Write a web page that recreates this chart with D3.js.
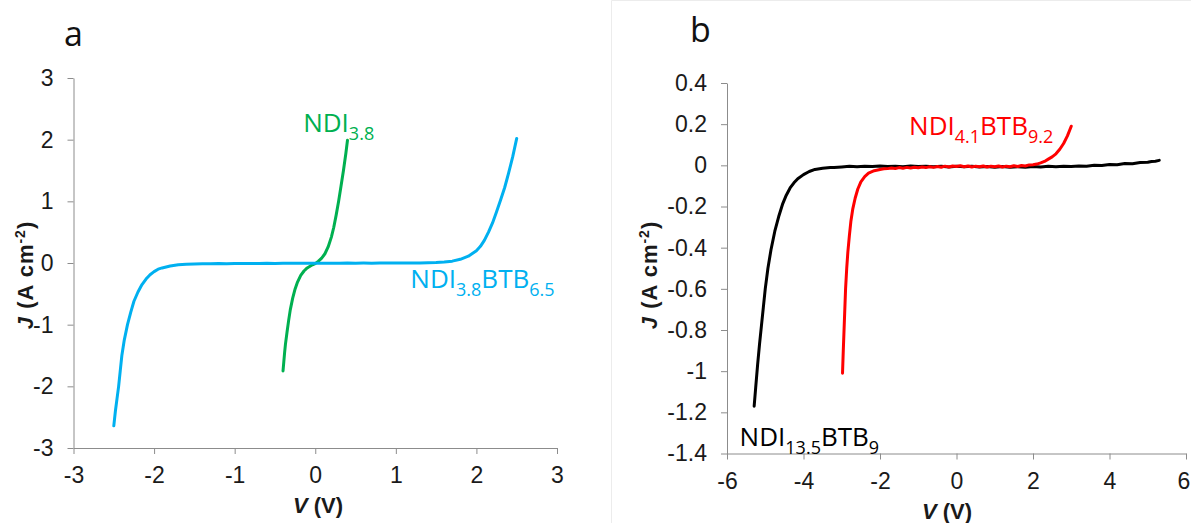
<!DOCTYPE html>
<html>
<head>
<meta charset="utf-8">
<script src="https://cdn.jsdelivr.net/npm/d3@7"></script>
<style>
  html, body { margin: 0; padding: 0; background: #fff; }
  svg { display: block; }
  .tick text { font-family: "Liberation Sans", Arial, sans-serif; font-size: 23px; fill: #1a1a1a; }
  .series-label { font-family: "Open Sans", sans-serif; font-size: 26px; }
  .axis-title { font-family: "Liberation Sans", Arial, sans-serif; font-size: 22px; font-weight: bold; fill: #1a1a1a; }
  .y-title { letter-spacing: 1px; }
  .panel-letter { font-family: "Open Sans", sans-serif; font-size: 34px; fill: #111; }
</style>
</head>
<body>
<script>
// ---- Panel a: J–V curves, voltage (V) vs current density (A cm^-2) ----
const aVTicks = [-3, -2, -1, 0, 1, 2, 3];
const aJTicks = [-3, -2, -1, 0, 1, 2, 3];

// NDI3.8 (green)
const ndi38 = [
  [-0.40, -1.75], [-0.39, -1.60], [-0.38, -1.45], [-0.37, -1.32], [-0.35, -1.12],
  [-0.33, -0.93], [-0.31, -0.76], [-0.28, -0.57], [-0.25, -0.42], [-0.22, -0.31],
  [-0.18, -0.20], [-0.14, -0.13], [-0.10, -0.08], [-0.05, -0.04], [0.00, -0.01],
  [0.04, 0.03], [0.08, 0.08], [0.12, 0.15], [0.16, 0.26], [0.20, 0.42],
  [0.23, 0.58], [0.26, 0.78], [0.29, 1.00], [0.32, 1.25], [0.35, 1.50],
  [0.38, 1.78], [0.40, 1.99]
];

// NDI3.8BTB6.5 (blue)
const ndi38btb65 = [
  [-2.50, -2.64], [-2.48, -2.40], [-2.46, -2.20], [-2.44, -2.00], [-2.42, -1.75],
  [-2.40, -1.50], [-2.37, -1.25], [-2.33, -1.00], [-2.29, -0.80], [-2.25, -0.62],
  [-2.20, -0.47], [-2.15, -0.35], [-2.10, -0.26], [-2.05, -0.19], [-2.00, -0.14],
  [-1.95, -0.10], [-1.90, -0.08], [-1.80, -0.05], [-1.70, -0.03], [-1.60, -0.02],
  [-1.50, -0.018], [-1.40, -0.014], [-1.30, -0.012], [-1.20, -0.010], [-1.10, -0.011],
  [-1.00, -0.008], [-0.90, -0.009], [-0.80, -0.007], [-0.70, -0.008], [-0.60, -0.006],
  [-0.50, -0.007], [-0.40, -0.005], [-0.30, -0.006], [-0.20, -0.004], [-0.10, -0.005],
  [0.00, -0.003], [0.10, -0.004], [0.20, -0.003], [0.30, -0.004], [0.40, -0.002],
  [0.50, -0.003], [0.60, -0.002], [0.70, -0.003], [0.80, -0.002], [0.90, -0.001],
  [1.00, -0.002], [1.10, 0.000], [1.20, -0.001], [1.30, 0.002], [1.40, 0.004],
  [1.50, 0.007], [1.60, 0.015], [1.70, 0.030], [1.80, 0.060], [1.90, 0.110],
  [2.00, 0.200], [2.05, 0.270], [2.10, 0.370], [2.15, 0.500], [2.20, 0.650],
  [2.25, 0.830], [2.30, 1.020], [2.35, 1.220], [2.40, 1.460], [2.45, 1.720],
  [2.50, 2.020]
];

// ---- Panel b ----
const bVTicks = [-6, -4, -2, 0, 2, 4, 6];
const bJTicks = [-1.4, -1.2, -1.0, -0.8, -0.6, -0.4, -0.2, 0, 0.2, 0.4];

// NDI13.5BTB9 (black)
const ndi135btb9 = [
  [-5.29, -1.17], [-5.25, -1.08], [-5.20, -0.97], [-5.15, -0.87], [-5.10, -0.78],
  [-5.05, -0.69], [-5.00, -0.60], [-4.93, -0.50], [-4.85, -0.41], [-4.75, -0.32],
  [-4.65, -0.25], [-4.55, -0.19], [-4.45, -0.145], [-4.35, -0.11], [-4.25, -0.085],
  [-4.15, -0.065], [-4.00, -0.045], [-3.85, -0.030], [-3.70, -0.020], [-3.50, -0.014],
  [-3.30, -0.010], [-3.20, -0.011], [-3.00, -0.008], [-2.80, -0.005], [-2.60, -0.007],
  [-2.40, -0.004], [-2.20, -0.006], [-2.00, -0.003], [-1.80, -0.006], [-1.60, -0.004],
  [-1.40, -0.007], [-1.20, -0.003], [-1.00, -0.006], [-0.80, -0.004], [-0.60, -0.007],
  [-0.40, -0.005], [-0.20, -0.008], [0.00, -0.004], [0.20, -0.007], [0.40, -0.005],
  [0.60, -0.008], [0.80, -0.006], [1.00, -0.009], [1.20, -0.006], [1.40, -0.009],
  [1.60, -0.007], [1.80, -0.009], [2.00, -0.006], [2.20, -0.008], [2.40, -0.005],
  [2.60, -0.007], [2.80, -0.004], [3.00, -0.006], [3.20, -0.003], [3.40, -0.004],
  [3.60, 0.000], [3.80, -0.001], [4.00, 0.004], [4.20, 0.003], [4.40, 0.009],
  [4.60, 0.008], [4.80, 0.014], [5.00, 0.015], [5.10, 0.019], [5.20, 0.020],
  [5.30, 0.024]
];

// NDI4.1BTB9.2 (red)
const ndi41btb92 = [
  [-2.98, -1.01], [-2.96, -0.90], [-2.94, -0.80], [-2.92, -0.70], [-2.90, -0.60],
  [-2.87, -0.50], [-2.84, -0.42], [-2.80, -0.34], [-2.76, -0.27], [-2.71, -0.21],
  [-2.65, -0.16], [-2.58, -0.115], [-2.50, -0.080], [-2.40, -0.055], [-2.30, -0.038],
  [-2.15, -0.026], [-2.00, -0.020], [-1.90, -0.017], [-1.80, -0.016], [-1.70, -0.013],
  [-1.60, -0.015], [-1.50, -0.011], [-1.40, -0.014], [-1.30, -0.010], [-1.20, -0.013],
  [-1.10, -0.009], [-1.00, -0.012], [-0.90, -0.008], [-0.80, -0.011], [-0.70, -0.007],
  [-0.60, -0.010], [-0.50, -0.006], [-0.40, -0.009], [-0.30, -0.004], [-0.20, -0.008],
  [-0.10, -0.003], [0.00, -0.006], [0.10, -0.002], [0.20, -0.007], [0.30, -0.003],
  [0.40, -0.008], [0.50, -0.004], [0.60, -0.007], [0.70, -0.003], [0.80, -0.008],
  [0.90, -0.004], [1.00, -0.007], [1.10, -0.003], [1.20, -0.008], [1.30, -0.004],
  [1.40, -0.007], [1.50, -0.002], [1.60, -0.006], [1.70, -0.001], [1.80, -0.003],
  [1.90, 0.002], [2.00, 0.003], [2.10, 0.006], [2.20, 0.012], [2.30, 0.019],
  [2.40, 0.030], [2.50, 0.041], [2.60, 0.056], [2.70, 0.078], [2.80, 0.106],
  [2.90, 0.143], [3.00, 0.190]
];

const W = 1191, H = 523;
const svg = d3.select("body").append("svg").attr("width", W).attr("height", H);

// faint frame around panel b
svg.append("path")
  .attr("d", `M611.5,${H} V0.5 H${W}`)
  .attr("fill", "none").attr("stroke", "#ececec").attr("stroke-width", 1);

const fmt = d => String(+d.toFixed(1));

function drawPanel(cfg) {
  const x = d3.scaleLinear().domain(cfg.xDomain).range(cfg.xRange);
  const y = d3.scaleLinear().domain(cfg.yDomain).range(cfg.yRange);
  const g = svg.append("g");

  const xAxis = g.append("g")
    .attr("transform", `translate(0,${cfg.yRange[0]})`)
    .call(d3.axisBottom(x).tickValues(cfg.xTicks).tickFormat(fmt).tickSize(6).tickSizeOuter(0).tickPadding(13));
  const yAxis = g.append("g")
    .attr("transform", `translate(${cfg.xRange[0]},0)`)
    .call(d3.axisLeft(y).tickValues(cfg.yTicks).tickFormat(fmt).tickSize(6).tickSizeOuter(0).tickPadding(14));
  [xAxis, yAxis].forEach(ax => {
    ax.select(".domain").attr("stroke", "#8c8c8c");
    ax.selectAll(".tick line").attr("stroke", "#8c8c8c");
    ax.selectAll(".tick text").attr("font-family", null).attr("font-size", null).attr("fill", null);
  });
  // keep the last x label inside the page edge
  if (cfg.lastXLabelShift) {
    xAxis.selectAll(".tick text").filter((d, i, n) => i === n.length - 1)
      .attr("dx", cfg.lastXLabelShift);
  }

  const line = d3.line().x(d => x(d[0])).y(d => y(d[1]));
  cfg.series.forEach(s => {
    g.append("path").datum(s.data)
      .attr("d", line)
      .attr("fill", "none")
      .attr("stroke", s.color)
      .attr("stroke-width", s.width || 3)
      .attr("stroke-linejoin", "round")
      .attr("stroke-linecap", "round");
  });

  cfg.labels.forEach(l => {
    const t = g.append("text").attr("class", "series-label")
      .attr("x", x(l.at[0])).attr("y", y(l.at[1])).attr("fill", l.color);
    l.parts.forEach(p => {
      if (p.sub) {
        t.append("tspan").text(p.sub).attr("font-size", "18px").attr("dy", 8);
      } else {
        t.append("tspan").text(p.t).attr("dy", p.after ? -8 : 0);
      }
    });
  });

  // panel letter
  g.append("text").attr("class", "panel-letter")
    .attr("x", cfg.letterPos[0]).attr("y", cfg.letterPos[1]).text(cfg.letter);

  // x-axis title: V (V)
  const xt = g.append("text").attr("class", "axis-title")
    .attr("x", cfg.xTitlePos[0]).attr("y", cfg.xTitlePos[1]).attr("text-anchor", "middle");
  xt.append("tspan").attr("font-style", "italic").text("V");
  xt.append("tspan").text(" (V)");

  // y-axis title: J (A cm-2)
  const yt = g.append("text").attr("class", "axis-title y-title")
    .attr("transform", `translate(${cfg.yTitlePos[0]},${cfg.yTitlePos[1]}) rotate(-90)`)
    .attr("text-anchor", "middle");
  yt.append("tspan").attr("font-style", "italic").text("J");
  yt.append("tspan").text(" (A cm");
  yt.append("tspan").attr("font-size", "14px").attr("dy", -8).text("-2");
  yt.append("tspan").attr("dy", 8).text(")");
}

drawPanel({
  xDomain: [-3, 3], xRange: [73.5, 557],
  yDomain: [-3, 3], yRange: [448, 78],
  xTicks: aVTicks, yTicks: aJTicks,
  series: [
    { data: ndi38, color: "#00B050" },
    { data: ndi38btb65, color: "#00B0F0" }
  ],
  labels: [
    { at: [-0.15, 2.12], color: "#00B050", parts: [{ t: "NDI" }, { sub: "3.8" }] },
    { at: [1.18, -0.41], color: "#00B0F0",
      parts: [{ t: "NDI" }, { sub: "3.8" }, { t: "BTB", after: true }, { sub: "6.5" }] }
  ],
  letter: "a", letterPos: [64, 46],
  xTitlePos: [318, 513],
  yTitlePos: [33, 275]
});

drawPanel({
  xDomain: [-6, 6], xRange: [727, 1186],
  yDomain: [-1.4, 0.4], yRange: [453.5, 83],
  xTicks: bVTicks, yTicks: bJTicks,
  lastXLabelShift: -2.5,
  series: [
    { data: ndi135btb9, color: "#000000" },
    { data: ndi41btb92, color: "#FF0000" }
  ],
  labels: [
    { at: [-1.24, 0.149], color: "#FF0000",
      parts: [{ t: "NDI" }, { sub: "4.1" }, { t: "BTB", after: true }, { sub: "9.2" }] },
    { at: [-5.67, -1.362], color: "#000000",
      parts: [{ t: "NDI" }, { sub: "13.5" }, { t: "BTB", after: true }, { sub: "9" }] }
  ],
  letter: "b", letterPos: [690, 42],
  xTitlePos: [947, 518.5],
  yTitlePos: [657, 275]
});
</script>
</body>
</html>
